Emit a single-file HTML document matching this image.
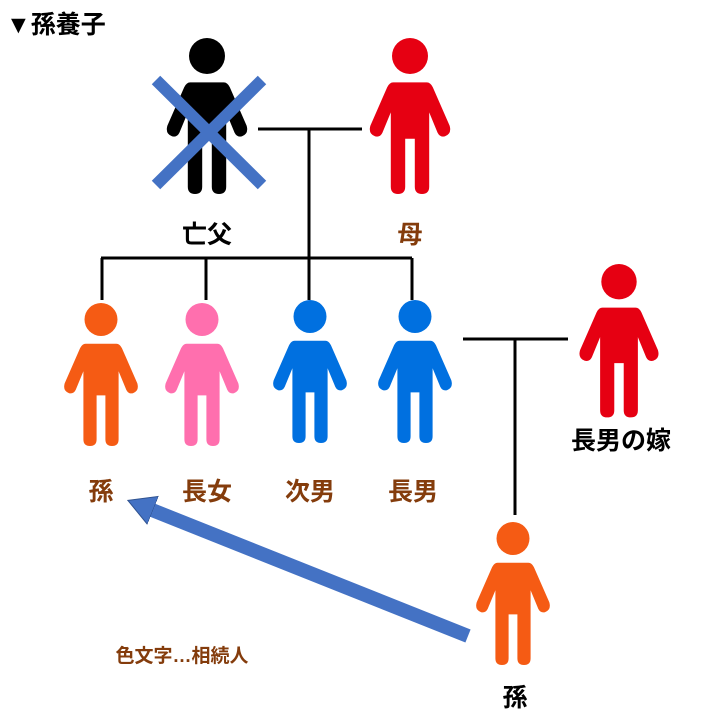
<!DOCTYPE html>
<html><head><meta charset="utf-8"><style>
body{margin:0;background:#fff}
svg{display:block}
text{font-family:"Liberation Sans","Noto Sans CJK JP",sans-serif;font-weight:bold}
</style></head><body>
<svg width="724" height="727" viewBox="0 0 724 727" xmlns="http://www.w3.org/2000/svg">
<defs>
<g id="p">
<circle cx="0" cy="15" r="15"/>
<path d="M-14,37 H14 Q17,37 19,41 L33,73 Q35,80 29,82 Q25,83 23,79 L16,62 V124 Q16,130 10,130 Q4,130 4,124 V84 H-4 V124 Q-4,130 -10,130 Q-16,130 -16,124 V62 L-23,79 Q-25,83 -29,82 Q-35,80 -33,73 L-19,41 Q-17,37 -14,37 Z"/>
</g>
<marker id="ah" markerUnits="userSpaceOnUse" markerWidth="28" markerHeight="32" refX="1" refY="16" orient="auto"><path d="M0,1 L27,16 L0,31 Z" fill="#4472c4" stroke="#2f528f" stroke-width="1"/></marker>
</defs>
<text x="6" y="33" font-size="25" fill="#000">▼孫養子</text>
<g stroke="#000" stroke-width="3" fill="none">
<path d="M258,129 H362 M309,129 V258 M101,258 H412 M102,258 V300 M206,258 V300 M309,258 V300 M412,258 V300"/>
<path d="M463,339 H568 M515,339 V515"/>
</g>
<use href="#p" fill="#000" transform="translate(207,38) scale(1.2)"/>
<use href="#p" fill="#e60012" transform="translate(410,38) scale(1.2)"/>
<use href="#p" fill="#e60012" transform="translate(619,264) scale(1.18)"/>
<use href="#p" fill="#f55b14" transform="translate(101,303) scale(1.1)"/>
<use href="#p" fill="#ff6fae" transform="translate(202,303) scale(1.1)"/>
<use href="#p" fill="#0070e0" transform="translate(310,300) scale(1.1)"/>
<use href="#p" fill="#0070e0" transform="translate(415,300) scale(1.1)"/>
<use href="#p" fill="#f55b14" transform="translate(513,522) scale(1.1)"/>
<g stroke="#4472c4" stroke-width="12">
<line x1="156" y1="80" x2="262" y2="185"/>
<line x1="262" y1="80" x2="156" y2="185"/>
</g>
<line x1="468" y1="636" x2="152" y2="510" stroke="#4472c4" stroke-width="14" marker-end="url(#ah)"/>
<g font-size="25" text-anchor="middle">
<text x="207" y="243" fill="#000">亡父</text>
<text x="410" y="243" fill="#843c0c">母</text>
<text x="101" y="500" fill="#843c0c">孫</text>
<text x="207" y="500" fill="#843c0c">長女</text>
<text x="310" y="500" fill="#843c0c">次男</text>
<text x="413" y="500" fill="#843c0c">長男</text>
<text x="621" y="449" fill="#000">長男の嫁</text>
<text x="515" y="706" fill="#000">孫</text>
</g>
<text x="182" y="662" font-size="19" text-anchor="middle" fill="#843c0c">色文字…相続人</text>
</svg>
</body></html>
